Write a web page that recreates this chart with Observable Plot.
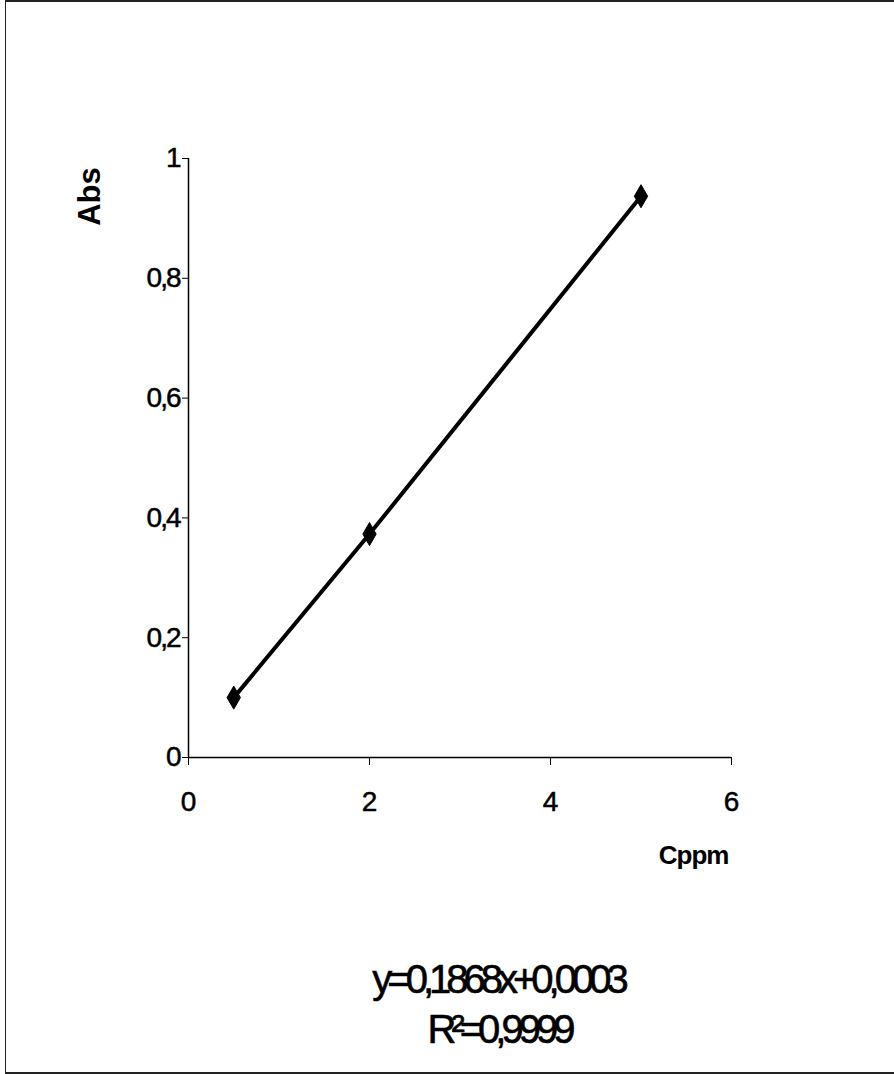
<!DOCTYPE html>
<html>
<head>
<meta charset="utf-8">
<script src="https://cdn.jsdelivr.net/npm/d3@7"></script>
<script src="https://cdn.jsdelivr.net/npm/@observablehq/plot@0.6"></script>
<style>
  html, body { margin: 0; padding: 0; background: #fff; }
  #wrap { position: relative; width: 894px; height: 1074px; overflow: hidden; background: #fff; }
  #frame { position: absolute; left: 5px; top: 0px; width: 900px; height: 1070px;
           border-left: 1.5px solid #222; border-top: 2px solid #222; border-bottom: 2px solid #222; }
  #chart { position: absolute; left: 0; top: 0; }
  g[aria-label^="x-axis"] text, g[aria-label^="y-axis"] text { font-size: 28px; stroke: #000; stroke-width: 0.5px; }
  g[aria-label^="y-axis"] text { letter-spacing: -2px; }
</style>
</head>
<body>
<div id="wrap">
  <div id="frame"></div>
  <div id="chart"></div>
</div>
<script>
// Data
const concentration = [0.5, 2, 5];          // Cppm
const absorbance   = [0.1, 0.373, 0.937];   // Abs
const xTicks = [0, 2, 4, 6];
const yTicks = [0, 0.2, 0.4, 0.6, 0.8, 1];
const xLabel = "Cppm";
const yLabel = "Abs";
const equation = "y=0,1868x+0,0003";
const rSquared = "R²=0,9999";

const points = concentration.map((c, i) => ({c, a: absorbance[i]}));

const chart = Plot.plot({
  width: 894,
  height: 1074,
  marginLeft: 188,
  marginRight: 163,
  marginTop: 158,
  marginBottom: 317,
  style: {background: "transparent", fontFamily: "'Liberation Sans', Arial, sans-serif", fontSize: "28px", color: "#000"},
  x: {domain: [0, 6], ticks: xTicks, tickSize: 8, tickPadding: 26, label: null, tickFormat: d => String(d)},
  y: {domain: [0, 1], ticks: yTicks, tickSize: 6, tickPadding: 3, label: null,
      tickFormat: d => String(d).replace(".", ",")},
  marks: [
    Plot.ruleY([0], {stroke: "#000", strokeWidth: 1.5}),
    Plot.ruleX([0], {stroke: "#000", strokeWidth: 1.5}),
    Plot.line(points, {x: "c", y: "a", stroke: "#000", strokeWidth: 4}),
    Plot.dot(points, {x: "c", y: "a", symbol: "diamond", r: 7, fill: "#000", stroke: "#000", strokeWidth: 1}),
    Plot.text([yLabel], {frameAnchor: "top-left", textAnchor: "middle", lineAnchor: "middle", rotate: -90, dx: -98, dy: 38, fontSize: 31, fontWeight: "bold", fill: "#000"}),
    Plot.text([xLabel], {frameAnchor: "bottom-right", textAnchor: "end", lineAnchor: "middle", dx: -3, dy: 98, fontSize: 26, fontWeight: "bold", fill: "#000"}),
    Plot.text([equation], {frameAnchor: "bottom", textAnchor: "middle", lineAnchor: "middle", dx: 38, dy: 223, fontSize: 40, fill: "#000", stroke: "#000", strokeWidth: 0.6}),
    Plot.text([rSquared], {frameAnchor: "bottom", textAnchor: "middle", lineAnchor: "middle", dx: 39, dy: 273, fontSize: 40, fill: "#000", stroke: "#000", strokeWidth: 0.6})
  ]
});

d3.select(chart).selectAll("text").filter(function() {
  const t = this.textContent;
  return t === equation || t === rSquared;
}).style("letter-spacing", "-5px");
d3.select(chart).selectAll("text").filter(function() { return this.textContent === xLabel; })
  .style("letter-spacing", "-1px");

document.getElementById("chart").appendChild(chart);
</script>
</body>
</html>
